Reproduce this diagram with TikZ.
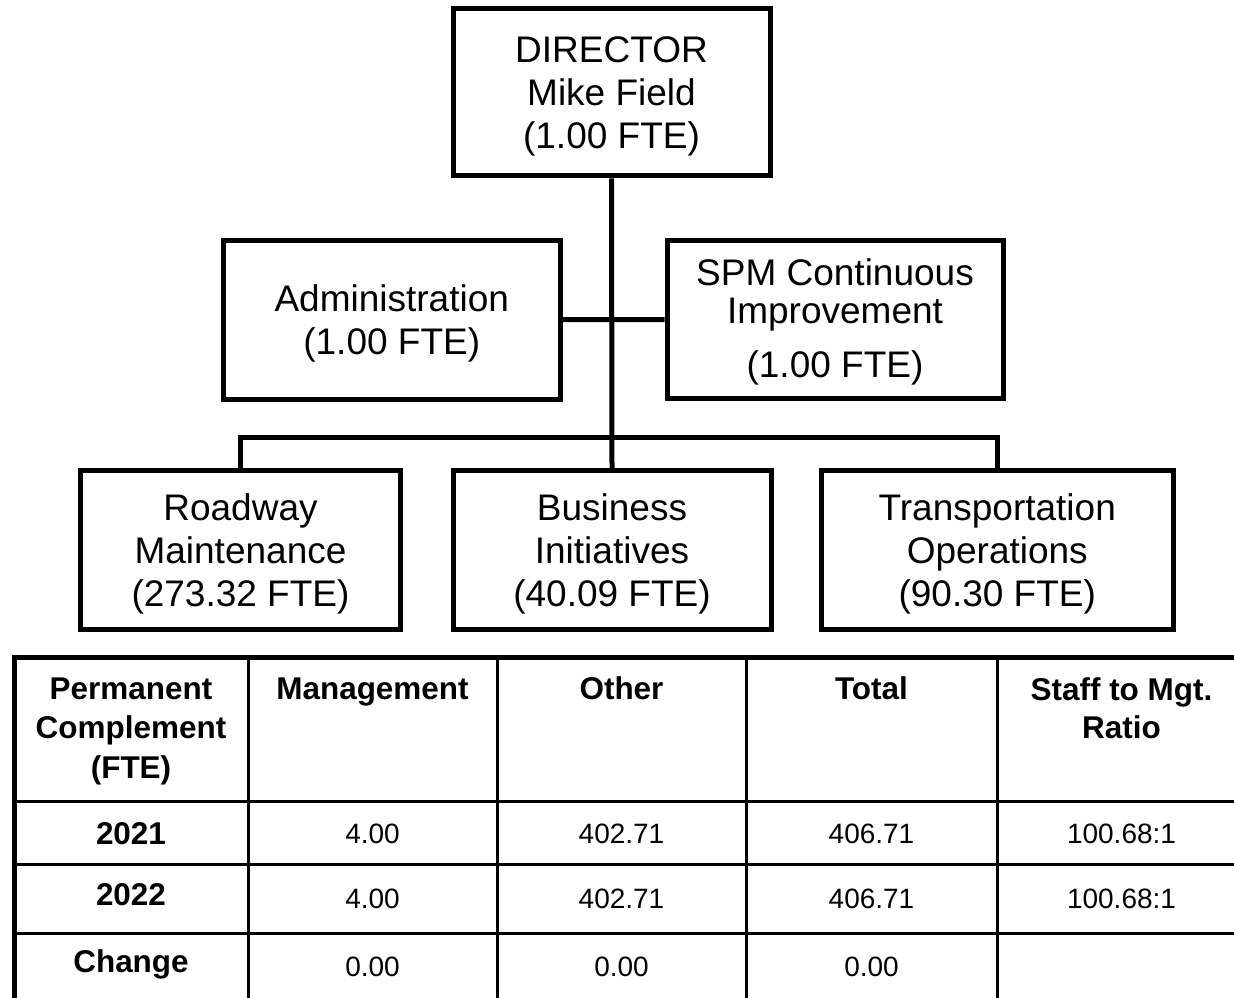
\documentclass[tikz,border=0pt]{standalone}
\usepackage{fontspec}
\setmainfont{Liberation Sans}
\begin{document}
\begin{tikzpicture}[x=0.75pt,y=-0.75pt]
\tikzset{
  orgbox/.style={draw, line width=3.75pt, inner sep=0pt},
  boxtext/.style={inner sep=0pt, align=center,
    font=\fontsize{27.75}{32.25}\selectfont},
  link/.style={line width=3.75pt},
  heavyrule/.style={line width=3.75pt},
  lightrule/.style={line width=2.25pt},
  hdr/.style={anchor=base, inner sep=0pt, font=\bfseries\fontsize{23.6}{29}\selectfont},
  val/.style={anchor=base, inner sep=0pt, font=\fontsize{21}{25}\selectfont},
}
\useasboundingbox (0,0) rectangle (1234,998);
\fill[white] (0,0) rectangle (1234,998);

% --- org chart boxes ---
\node[orgbox, minimum width=237.75pt, minimum height=125.25pt] (dir) at (611.5,92.5) {};
\node[orgbox, minimum width=253.1pt, minimum height=118.9pt] (adm) at (391.75,319.75) {};
\node[orgbox, minimum width=252pt, minimum height=118.5pt] (spm) at (835,319.5) {};
\node[orgbox, minimum width=240pt, minimum height=119.25pt] (road) at (240.5,550) {};
\node[orgbox, minimum width=238.5pt, minimum height=119.25pt] (bus) at (612,550) {};
\node[orgbox, minimum width=263.6pt, minimum height=119.25pt] (trans) at (997.25,550) {};

% --- box texts ---
\node[boxtext] (dirt) at ([yshift=-3pt]dir.center) {DIRECTOR\\Mike Field\\(1.00 FTE)};
\node[boxtext] (admt) at ([yshift=-3pt]adm.center) {Administration\\(1.00 FTE)};
\node[boxtext] (spmt) at ([yshift=-1.5pt]spm.center)
  {SPM Continuous\\[-3.75pt]Improvement\\[8.25pt](1.00 FTE)};
\node[boxtext] (roadt) at ([yshift=-3pt]road.center) {Roadway\\Maintenance\\(273.32 FTE)};
\node[boxtext] (bust) at ([yshift=-3pt]bus.center) {Business\\Initiatives\\(40.09 FTE)};
\node[boxtext] (transt) at ([yshift=-3pt]trans.center) {Transportation\\Operations\\(90.30 FTE)};

\coordinate (busc) at (612,437);

% --- connectors ---
\draw[link] (dir.south) -- (bus.north);
\draw[link] (adm.east) -- (spm.west);
\draw[link] (road.north) |- (busc) -| (trans.north);

% --- table rules ---
\draw[heavyrule] (12,657.5) -- (1234,657.5);
\draw[heavyrule] (14.5,655.6) -- (14.5,998);
\foreach \xx in {248,497,746,997}
  \draw[lightrule] (\xx,657.5) -- (\xx,998);
\foreach \yy in {801.5,864,933}
  \draw[lightrule] (14.5,\yy) -- (1234,\yy);

% --- table header ---
\node[hdr] (h1a) at (131,699) {Permanent};
\node[hdr] (h1b) at (131,738) {Complement};
\node[hdr] (h1c) at (131,778) {(FTE)};
\node[hdr] (h2) at (372.5,699) {Management};
\node[hdr] (h3) at (621.5,699) {Other};
\node[hdr] (h4) at (871.5,699) {Total};
\node[hdr] (h5a) at (1121.5,700) {Staff to Mgt.};
\node[hdr] (h5b) at (1121.5,738) {Ratio};

% --- rows ---
\node[hdr] (r1) at (131,844) {2021};
\node[val] (r1a) at (372.5,843) {4.00};
\node[val] (r1b) at (621.5,843) {402.71};
\node[val] (r1c) at (871.5,843) {406.71};
\node[val] (r1d) at (1121.5,843) {100.68:1};

\node[hdr] (r2) at (131,905) {2022};
\node[val] (r2a) at (372.5,908) {4.00};
\node[val] (r2b) at (621.5,908) {402.71};
\node[val] (r2c) at (871.5,908) {406.71};
\node[val] (r2d) at (1121.5,908) {100.68:1};

\node[hdr] (r3) at (131,972) {Change};
\node[val] (r3a) at (372.5,976) {0.00};
\node[val] (r3b) at (621.5,976) {0.00};
\node[val] (r3c) at (871.5,976) {0.00};
\end{tikzpicture}
\end{document}
